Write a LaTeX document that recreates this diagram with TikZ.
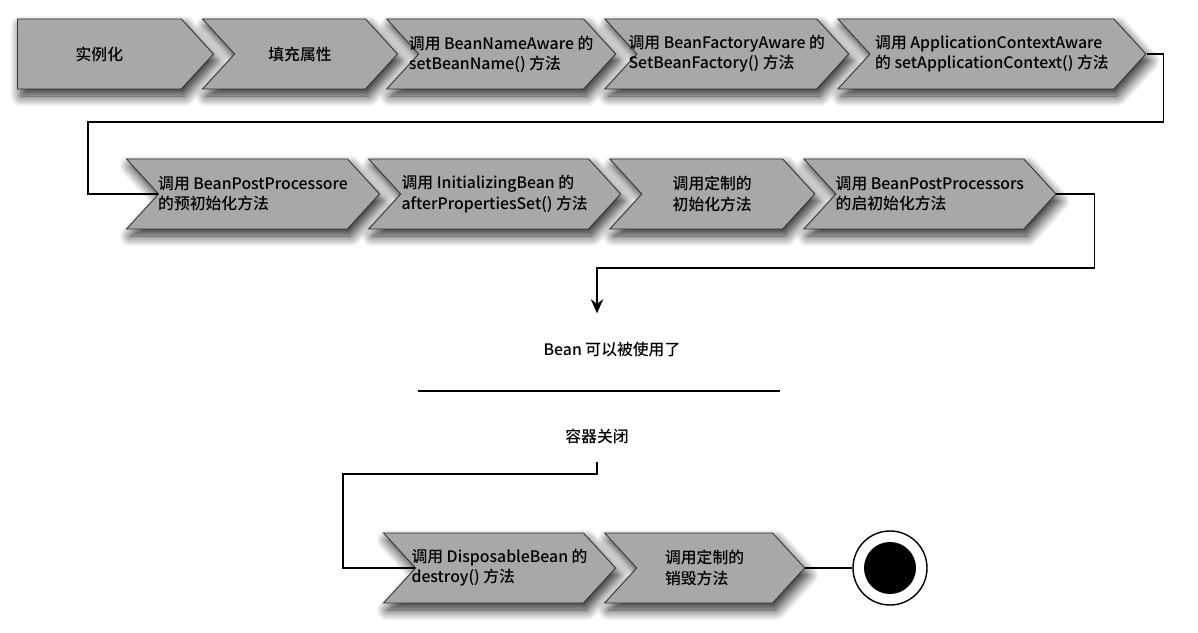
\documentclass[tikz,border=0pt]{standalone}
\usepackage{fontspec}
\setmainfont{Noto Sans CJK SC}[UprightFont=* Medium]
\usepackage{tikz}
\usetikzlibrary{positioning}
\usetikzlibrary{arrows.meta}
\usetikzlibrary{shapes.symbols}
\usetikzlibrary{shadows.blur}
\definecolor{chevgray}{RGB}{168,168,168}

\begin{document}
\begin{tikzpicture}[
            > = {Stealth[length=8pt, width=7pt]}, % arrow head style
            line width = 1pt, % line style
            font = \fontsize{9}{11.5}\selectfont
        ]

        \tikzstyle{chev}=[
            signal, signal to = east, signal from = west,
            signal pointer angle = 95,
            draw = black!80, line width = 0.5pt,
            fill = chevgray,
            minimum height = 1.4cm,
            inner xsep = -1cm, % text may run over the points
            align = left,
            blur shadow = {shadow xshift=2pt, shadow yshift=-4pt, shadow blur radius=6pt, shadow blur steps=12, shadow opacity=85}
        ]
        \tikzstyle{endstate}=[
            circle, draw, line width = 0.8pt, fill = white,
            minimum size = 1.48cm,
            path picture = {\fill[black] (path picture bounding box.center) circle (0.52);}
        ]

        \useasboundingbox (0,0) rectangle (23.96,12.64);

	% creation
        \node[chev, signal from = nowhere, minimum width = 3.92cm, anchor = west] (I) at (0.34,11.56) {实例化};
        \node[chev, minimum width = 3.9cm] (P) [right = 0.4cm of I] {填充属性};
        \node[chev, minimum width = 4.58cm] (BN) [right = 0.4cm of P] {调用 BeanNameAware 的\\setBeanName() 方法};
        \node[chev, minimum width = 4.88cm] (BF) [right = 0.4cm of BN] {调用 BeanFactoryAware 的\\SetBeanFactory() 方法};
        \node[chev, minimum width = 6.16cm] (AC) [right = 0.4cm of BF] {调用 ApplicationContextAware\\的 setApplicationContext() 方法};

        % initialisation
        \node[chev, minimum width = 5.06cm, anchor = west] (BP) at (3.16,8.76) {调用 BeanPostProcessore\\的预初始化方法};
        \node[chev, minimum width = 5.04cm] (IB) [right = 0.4cm of BP] {调用 InitializingBean 的\\afterPropertiesSet() 方法};
        \node[chev, minimum width = 4.1cm] (CI) [right = 0.4cm of IB] {调用定制的\\初始化方法};
        \node[chev, minimum width = 5.04cm] (BP2) [right = 0.4cm of CI] {调用 BeanPostProcessors\\的启初始化方法};

        \path[draw] (AC.east) -- ++(0.34,0) -- ++(0,-1.36) -| ([xshift=-1.4cm]BP.west) -- (BP.west);

        % in use
        \node (U) at (12.24,5.64) {Bean 可以被使用了};
        \node (C) at (11.94,3.92) {容器关闭};

        \path[draw,->] (BP2.east) -- ++(0.76,0) -- ++(0,-1.48) -| ([xshift=-0.3cm,yshift=0.45cm]U.north);
        \draw[line width = 1.2pt] (8.36,4.82) -- (15.6,4.82);

        % destruction
        \node[chev, minimum width = 4.64cm, anchor = west] (DB) at (8.3,1.28) {调用 DisposableBean 的\\destroy() 方法};
        \node[chev, minimum width = 4.0cm] (CD) [right = 0.4cm of DB] {调用定制的\\销毁方法};
        \node[endstate] (E) at (17.8,1.28) {};

        \path[draw] ([yshift=-0.24cm]C.south) -- ++(0,-0.24) -| ([xshift=-1.44cm]DB.west) -- (DB.west);
        \path[draw] (CD.east) -- (E);

  \end{tikzpicture}
\end{document}
